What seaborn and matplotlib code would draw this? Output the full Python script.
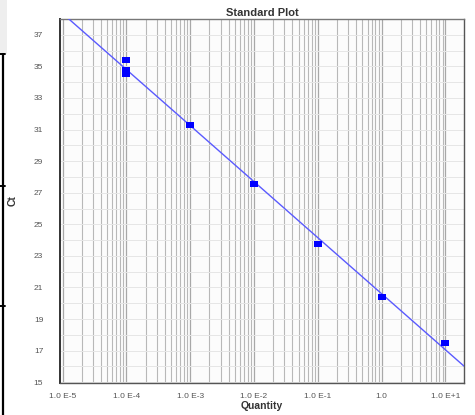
import numpy as np
import pandas as pd
import matplotlib
matplotlib.use("Agg")
import matplotlib.pyplot as plt
from matplotlib.path import Path
from matplotlib.lines import Line2D
from matplotlib.patches import Rectangle
from matplotlib.ticker import LogLocator, FixedLocator, NullFormatter
import seaborn as sns

# ---- data ----
quantity = [1e-4, 1e-4, 1e-4, 1e-3, 1e-2, 1e-1, 1.0, 10.0]
ct = [35.41, 34.74, 34.53, 31.27, 27.55, 23.73, 20.41, 17.51]
x_ticks = [1e-5, 1e-4, 1e-3, 1e-2, 1e-1, 1.0, 10.0]
x_tick_labels = ["1.0 E-5", "1.0 E-4", "1.0 E-3", "1.0 E-2", "1.0 E-1", "1.0", "1.0 E+1"]
y_ticks = [15, 17, 19, 21, 23, 25, 27, 29, 31, 33, 35, 37]

sns.set_theme(style="white")
plt.rcParams['font.family'] = ['Liberation Sans', 'DejaVu Sans']

W, H = 475, 415
fig = plt.figure(figsize=(W / 100, H / 100), dpi=100)
ax = fig.add_axes([60 / W, 1 - 383 / H, (464 - 60) / W, (383 - 19) / H])
ax.set_facecolor("#fcfcfc")

xlim = (10 ** -5.04, 10 ** 1.29)
ylim = (14.95, 38.0)

# regression line (fit from the data)
b, a = np.polyfit(np.log10(quantity), ct, 1)
fit_x = np.array(xlim)
fit_df = pd.DataFrame({"q": fit_x, "ct": a + b * np.log10(fit_x)})
df = pd.DataFrame({"q": quantity, "ct": ct})

ax.set_xscale("log")
sns.lineplot(data=fit_df, x="q", y="ct", ax=ax, color="#5a5aff", lw=1.0, zorder=3)

rect_marker = Path([(-1, -0.72), (1, -0.72), (1, 0.72), (-1, 0.72), (-1, -0.72)],
                   [Path.MOVETO, Path.LINETO, Path.LINETO, Path.LINETO, Path.CLOSEPOLY])
sns.scatterplot(data=df, x="q", y="ct", ax=ax, marker=rect_marker, s=26,
                color="#0000ff", edgecolor="#0000ff", linewidth=0, zorder=4)

ax.set_xlim(*xlim)
ax.set_ylim(*ylim)

# grid
ax.xaxis.set_major_locator(FixedLocator(x_ticks))
ax.xaxis.set_minor_locator(LogLocator(base=10, subs=np.arange(2, 10), numticks=20))
ax.xaxis.set_minor_formatter(NullFormatter())
ax.set_xticklabels(x_tick_labels)
ax.yaxis.set_major_locator(FixedLocator(y_ticks))
ax.yaxis.set_minor_locator(FixedLocator(np.arange(15, 39, 1)))
ax.grid(True, which="major", axis="x", color="#a8a8a8", lw=0.9)
ax.grid(True, which="minor", axis="x", color="#b8b8b8", lw=0.8)
ax.grid(True, which="both", axis="y", color="#e6e6e6", lw=0.7)
ax.set_axisbelow(True)

ax.tick_params(axis="both", which="both", length=0)
ax.tick_params(axis="y", which="major", labelsize=6, labelcolor="#555555", pad=12)
ax.tick_params(axis="x", which="major", labelsize=6, labelcolor="#555555", pad=7)

for side in ["left", "bottom", "right", "top"]:
    ax.spines[side].set_visible(True)
    ax.spines[side].set_linewidth(1.0)
ax.spines["left"].set_color("#333333")
ax.spines["bottom"].set_color("#555555")
ax.spines["right"].set_color("#555555")
ax.spines["top"].set_color("#777777")
ax.spines["left"].set_linewidth(1.4)

ax.set_title("Standard Plot", fontsize=8, fontweight="bold", color="#333333", pad=2)
ax.set_xlabel("Quantity", fontsize=7.5, fontweight="bold", color="#333333", labelpad=1)
ax.set_ylabel("Ct", fontsize=7.5, fontweight="bold", color="#333333", labelpad=12)

# screenshot frame artifacts on the left edge
fig.patches.append(Rectangle((0, 1 - 54 / H), 7 / W, 54 / H, transform=fig.transFigure,
                             facecolor="#eeeeee", edgecolor="none"))
fig.lines.append(Line2D([3 / W, 3 / W], [0, 1 - 54 / H], transform=fig.transFigure,
                        color="black", lw=1.6))
for yy in [54, 186, 306]:
    fig.lines.append(Line2D([0, 5 / W], [1 - yy / H, 1 - yy / H], transform=fig.transFigure,
                            color="black", lw=1.4))

fig.savefig("out.png", dpi=100)
